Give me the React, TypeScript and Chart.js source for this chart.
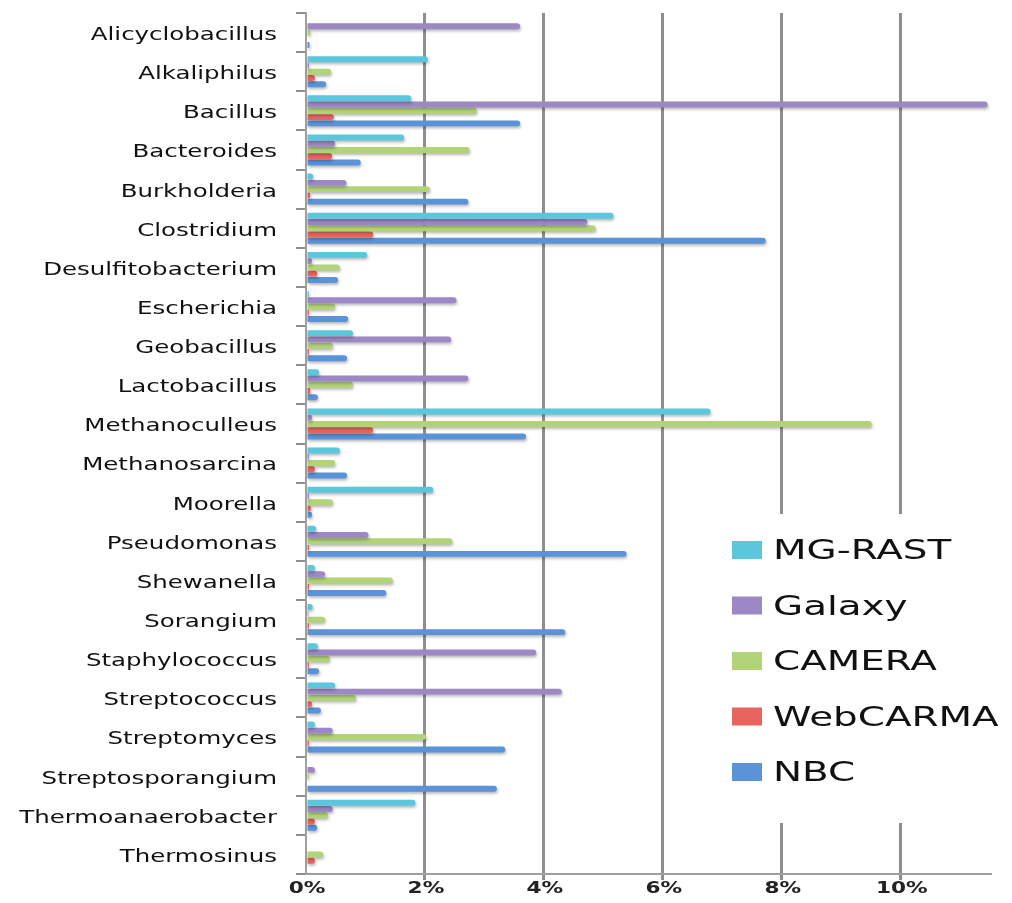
import React, { useEffect, useRef } from "react";
import { Chart, registerables } from "chart.js";

Chart.register(...registerables);

const categories = [
  "Alicyclobacillus", "Alkaliphilus", "Bacillus", "Bacteroides", "Burkholderia",
  "Clostridium", "Desulfitobacterium", "Escherichia", "Geobacillus", "Lactobacillus",
  "Methanoculleus", "Methanosarcina", "Moorella", "Pseudomonas", "Shewanella",
  "Sorangium", "Staphylococcus", "Streptococcus", "Streptomyces", "Streptosporangium",
  "Thermoanaerobacter", "Thermosinus",
];

const seriesNames = ["MG-RAST", "Galaxy", "CAMERA", "WebCARMA", "NBC"];
const seriesColors = ["#5bc6dc", "#9d88c6", "#b2d477", "#e8645f", "#5b93d9"];

const mgRast = [0, 2.05, 1.77, 1.65, 0.12, 5.17, 1.03, 0.05, 0.79, 0.22, 6.8, 0.57, 2.14, 0.17, 0.15, 0.11, 0.2, 0.49, 0.15, 0, 1.84, 0];
const galaxy = [3.6, 0.05, 11.46, 0.49, 0.68, 4.73, 0.1, 2.53, 2.44, 2.73, 0.1, 0.05, 0.05, 1.05, 0.32, 0.04, 3.87, 4.3, 0.45, 0.15, 0.45, 0];
const camera = [0.07, 0.42, 2.87, 2.75, 2.08, 4.87, 0.57, 0.49, 0.45, 0.79, 9.51, 0.49, 0.45, 2.46, 1.46, 0.32, 0.4, 0.84, 2.02, 0.05, 0.37, 0.29];
const webCarma = [0, 0.15, 0.47, 0.44, 0.07, 1.13, 0.19, 0.05, 0.05, 0.07, 1.13, 0.15, 0.08, 0.05, 0.05, 0.05, 0.05, 0.1, 0.05, 0, 0.15, 0.15];
const nbc = [0.06, 0.34, 3.6, 0.92, 2.73, 7.73, 0.54, 0.71, 0.69, 0.2, 3.7, 0.69, 0.1, 5.39, 1.35, 4.36, 0.22, 0.25, 3.35, 3.21, 0.19, 0];

const seriesValues = [mgRast, galaxy, camera, webCarma, nbc];

const xTicks = [0, 2, 4, 6, 8, 10];
const xTickLabels = ["0%", "2%", "4%", "6%", "8%", "10%"];

const STRETCH = 1.44;

function stretchedText(ctx: any, text: string, x: number, y: number, align: string, font: string, color: string) {
  ctx.save();
  ctx.translate(x, y);
  ctx.scale(STRETCH, 1);
  ctx.font = font;
  ctx.fillStyle = color;
  ctx.textAlign = align;
  ctx.textBaseline = "middle";
  ctx.fillText(text, 0, 0);
  ctx.restore();
}

const textPlugin = {
  id: "stretchedText",
  beforeDatasetsDraw(chart: any) {
    const ctx = chart.ctx;
    ctx.save();
    ctx.shadowColor = "rgba(0,0,0,0.28)";
    ctx.shadowBlur = 3;
    ctx.shadowOffsetX = 1;
    ctx.shadowOffsetY = 2;
  },
  afterDatasetsDraw(chart: any) {
    chart.ctx.restore();
  },
  afterDraw(chart: any) {
    const ctx = chart.ctx;
    const yScale = chart.scales.y;
    const xScale = chart.scales.x;
    // category labels
    categories.forEach((name, i) => {
      const cy = yScale.getPixelForValue(i);
      stretchedText(ctx, name, 277, cy + 3, "right", "17px 'DejaVu Sans'", "#111111");
    });
    // x tick labels
    xTicks.forEach((v, i) => {
      const px = xScale.getPixelForValue(v);
      stretchedText(ctx, xTickLabels[i], px + 1, 889, "center", "bold 15px 'DejaVu Sans'", "#222222");
    });
    // legend
    ctx.save();
    ctx.fillStyle = "#ffffff";
    ctx.fillRect(722, 514, 290, 309);
    ctx.restore();
    const startY = 550;
    const step = 55.5;
    seriesNames.forEach((name, i) => {
      const cy = startY + i * step;
      ctx.save();
      ctx.fillStyle = seriesColors[i];
      ctx.fillRect(732, cy - 9, 30, 18);
      ctx.restore();
      stretchedText(ctx, name, 773, cy + 2, "left", "27px 'DejaVu Sans'", "#111111");
    });
  },
};

export default function App() {
  const ref = useRef<HTMLCanvasElement | null>(null);

  useEffect(() => {
    if (!ref.current) return;
    const chart = new Chart(ref.current, {
      type: "bar",
      data: {
        labels: categories,
        datasets: seriesNames.map((name, i) => ({
          label: name,
          data: seriesValues[i],
          backgroundColor: seriesColors[i],
          borderWidth: 0,
          borderRadius: 3,
          categoryPercentage: 0.8,
          barPercentage: 0.95,
        })),
      },
      options: {
        indexAxis: "y",
        animation: false,
        responsive: false,
        maintainAspectRatio: false,
        layout: { padding: { top: 13, right: 22, left: 0, bottom: 0 } },
        plugins: {
          legend: { display: false },
          tooltip: { enabled: false },
          title: { display: false },
        },
        scales: {
          x: {
            type: "linear",
            min: 0,
            max: 11.5,
            afterFit: (s: any) => { s.height = 29; },
            afterBuildTicks: (s: any) => { s.ticks = xTicks.map((v) => ({ value: v })); },
            ticks: { display: false, includeBounds: false, autoSkip: false },
            grid: {
              color: (c: any) => (c.index === 0 ? "rgba(0,0,0,0)" : "#8e8e8e"),
              lineWidth: 3,
              tickLength: 6,
              drawOnChartArea: true,
            },
            border: { display: true, color: "#a0a0a0", width: 2 },
          },
          y: {
            type: "category",
            afterFit: (s: any) => { s.width = 306; },
            ticks: { display: false, autoSkip: false },
            grid: {
              drawOnChartArea: false,
              drawTicks: true,
              tickLength: 10,
              color: "#8e8e8e",
              lineWidth: 2,
              offset: true,
            },
            border: { display: true, color: "#a0a0a0", width: 2 },
          },
        },
      },
      plugins: [textPlugin],
    });
    return () => chart.destroy();
  }, []);

  return (
    <div style={{ position: "fixed", left: 0, top: 0, width: 1012, height: 903, background: "#ffffff" }}>
      <canvas ref={ref} width={1012} height={903} style={{ width: 1012, height: 903, display: "block" }} />
    </div>
  );
}
